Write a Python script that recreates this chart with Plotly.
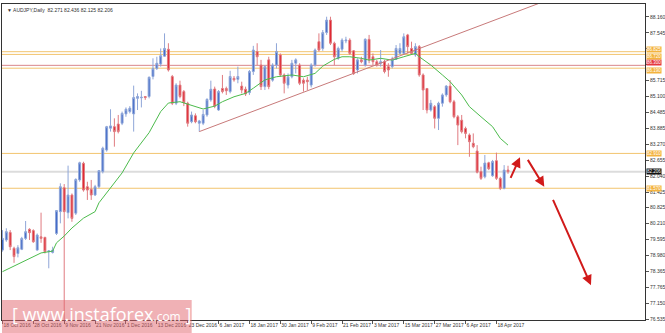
import plotly.graph_objects as go

# ---------------- data ----------------
tick_labels = ["18 Oct 2016", "28 Oct 2016", "9 Nov 2016", "21 Nov 2016", "1 Dec 2016",
               "13 Dec 2016", "23 Dec 2016", "6 Jan 2017", "18 Jan 2017", "30 Jan 2017",
               "9 Feb 2017", "21 Feb 2017", "3 Mar 2017", "15 Mar 2017", "27 Mar 2017",
               "6 Apr 2017", "18 Apr 2017"]
bars_per_tick = 8

opens = [79.19, 79.58, 79.87, 79.26, 79.06, 79.22, 79.64, 79.99, 79.94, 79.19,
         79.70, 79.68, 79.13, 79.10, 79.83, 80.67, 81.59, 80.63, 81.31, 80.61,
         81.89, 82.53, 81.63, 81.53, 81.31, 81.63, 82.21, 83.04, 83.88, 83.94,
         84.04, 84.07, 84.43, 84.52, 84.43, 85.03, 85.05, 85.10, 85.10, 85.87,
         86.18, 86.35, 86.65, 86.92, 85.87, 84.84, 85.54, 85.29, 84.84, 84.13,
         84.36, 84.07, 84.07, 84.39, 84.97, 85.39, 84.58, 85.41, 85.41, 85.29,
         85.80, 85.76, 85.50, 85.38, 85.25, 86.06, 86.83, 86.31, 85.48, 86.51,
         85.73, 86.31, 86.70, 85.93, 85.54, 85.86, 86.38, 86.31, 85.73, 85.73,
         85.54, 86.31, 87.21, 86.95, 87.56, 88.04, 87.15, 86.57, 86.92, 87.24,
         87.27, 86.86, 86.12, 86.51, 86.31, 87.30, 86.63, 86.44, 86.38, 86.44,
         86.25, 86.25, 86.53, 86.76, 86.76, 87.47, 86.95, 86.70, 87.02, 85.93,
         85.41, 84.58, 84.71, 84.26, 84.84, 85.16, 85.50, 84.90, 84.32, 84.19,
         83.87, 83.62, 83.30, 83.00, 82.21, 82.01, 82.55, 82.05, 82.63, 81.95,
         81.57, 82.271]
highs = [79.96, 80.03, 79.96, 79.32, 79.38, 79.70, 80.31, 80.03, 79.99, 79.83,
         80.63, 79.70, 79.19, 79.32, 80.73, 81.76, 81.73, 82.44, 81.37, 81.95,
         82.59, 82.59, 81.82, 81.89, 81.70, 82.27, 83.17, 83.97, 84.61, 84.26,
         84.39, 84.52, 84.68, 84.73, 85.52, 85.22, 85.32, 85.12, 85.87, 86.57,
         86.63, 86.95, 87.53, 87.15, 85.93, 85.61, 85.71, 85.35, 84.90, 84.52,
         84.45, 84.20, 84.58, 85.03, 85.71, 85.48, 85.35, 85.93, 85.48, 86.09,
         85.89, 86.25, 85.67, 85.48, 86.12, 87.05, 87.15, 86.51, 86.31, 86.63,
         86.38, 87.15, 86.76, 85.99, 85.99, 86.51, 86.57, 86.38, 85.80, 85.86,
         86.38, 86.95, 87.53, 87.66, 88.17, 88.17, 87.21, 87.02, 87.34, 87.40,
         87.34, 86.89, 86.57, 86.63, 87.34, 87.47, 86.76, 86.51, 86.89, 86.51,
         86.38, 86.63, 87.08, 87.15, 87.53, 87.51, 87.21, 87.15, 87.08, 85.99,
         85.41, 84.97, 84.77, 84.90, 85.22, 85.54, 85.73, 84.97, 84.39, 84.39,
         83.94, 83.68, 83.68, 83.23, 82.40, 82.85, 82.59, 82.66, 82.94, 82.01,
         82.46, 82.436]
lows = [79.13, 79.51, 79.19, 78.70, 78.91, 79.19, 79.58, 79.58, 79.47, 79.17,
        79.47, 79.06, 78.49, 79.06, 79.77, 80.22, 76.20, 80.41, 80.28, 80.54,
        81.82, 81.44, 81.12, 81.12, 81.27, 81.57, 82.14, 82.98, 83.75, 83.17,
        83.68, 84.00, 84.32, 84.45, 83.75, 84.58, 84.68, 84.97, 85.03, 85.76,
        86.12, 86.25, 86.63, 86.06, 84.77, 84.77, 85.03, 84.73, 83.94, 84.07,
        84.07, 83.75, 84.00, 84.32, 84.90, 84.65, 84.55, 85.22, 85.16, 85.22,
        85.67, 85.61, 85.22, 85.12, 85.16, 85.93, 86.31, 85.35, 85.35, 85.38,
        85.67, 86.18, 85.86, 85.22, 85.41, 85.80, 85.99, 85.54, 85.29, 85.35,
        85.45, 86.25, 86.83, 86.86, 87.47, 87.08, 86.31, 86.51, 86.83, 87.15,
        86.70, 85.93, 85.99, 86.38, 86.25, 86.38, 86.31, 86.25, 86.25, 85.99,
        85.86, 86.18, 86.51, 86.70, 86.70, 86.76, 86.70, 86.63, 85.86, 84.58,
        84.45, 84.52, 83.87, 83.81, 84.71, 85.09, 84.84, 84.26, 83.23, 83.68,
        83.49, 82.78, 83.11, 82.14, 81.89, 81.95, 82.27, 82.01, 81.89, 81.50,
        81.53, 82.125]
closes = [79.64, 79.90, 79.32, 78.94, 79.28, 79.64, 79.90, 79.86, 79.51, 79.77,
          79.64, 79.13, 79.16, 79.19, 80.71, 81.63, 80.67, 81.31, 80.41, 81.91,
          82.55, 81.50, 81.50, 81.31, 81.63, 82.25, 83.11, 83.94, 83.97, 83.75,
          83.75, 84.45, 84.61, 84.65, 85.06, 85.10, 85.07, 85.06, 85.84, 86.18,
          86.38, 86.67, 86.95, 86.12, 84.84, 85.54, 85.10, 84.86, 84.07, 84.39,
          84.13, 84.16, 84.41, 84.99, 85.38, 84.73, 85.29, 85.29, 85.32, 85.87,
          85.74, 85.87, 85.35, 85.20, 86.06, 86.89, 86.63, 85.48, 86.25, 85.48,
          86.31, 86.83, 85.93, 85.61, 85.86, 86.38, 86.51, 85.61, 85.61, 85.67,
          86.31, 86.89, 86.89, 87.56, 88.04, 87.15, 86.63, 86.95, 87.27, 87.27,
          86.76, 85.99, 86.51, 86.44, 87.30, 86.51, 86.44, 86.31, 86.44, 86.06,
          86.12, 86.53, 86.95, 86.95, 87.40, 87.02, 86.76, 87.02, 85.93, 85.35,
          84.58, 84.84, 84.26, 84.84, 85.16, 85.50, 84.90, 84.32, 84.00, 83.75,
          83.68, 83.36, 83.17, 82.19, 81.95, 82.54, 82.32, 82.60, 81.95, 81.57,
          82.27, 82.206]

# moving average line (bar index, price)
ma_idx = [0, 3, 7, 10, 13, 14, 16, 18, 21, 24, 25, 28, 31, 34, 38, 41, 43, 46, 50, 52,
          55, 57, 60, 63, 65, 68, 71, 75, 78, 81, 83, 86, 88, 90, 93, 95, 98, 101, 104,
          107, 108, 111, 114, 116, 119, 121, 124, 127, 129, 131]
ma_val = [78.36, 78.58, 78.88, 79.08, 79.15, 79.47, 79.73, 80.04, 80.42, 80.67, 81.01,
          81.58, 82.16, 82.93, 83.71, 84.52, 84.85, 84.90, 84.73, 84.62, 84.73, 84.90,
          85.09, 85.22, 85.42, 85.74, 85.86, 85.93, 85.86, 85.99, 86.27, 86.53, 86.63,
          86.63, 86.57, 86.50, 86.57, 86.50, 86.63, 86.76, 86.63, 86.31, 85.93, 85.67,
          85.16, 84.71, 84.32, 83.94, 83.49, 83.23]

# trend line anchors (bar index, price)
trend_idx = [51, 145]
trend_price = [83.75, 89.02]

# horizontal levels
orange_levels = [86.825, 86.720, 86.190, 82.910, 81.570]
red_levels = [86.300]
last_price = 82.206

price_ticks = [88.160, 87.545, 86.930, 86.315, 85.715, 85.100, 84.485, 83.885, 83.270,
               82.655, 82.040, 81.425, 80.825, 80.210, 79.595, 78.980, 78.365, 77.765,
               77.150, 76.535]
# tick labels hidden behind the level labels in the terminal
hidden_ticks = [86.930, 86.315]

# forecast arrows: (tail bar, tail price, head bar, head price)
arrows = [(131.5, 81.91, 134.1, 82.76),
          (135.9, 82.72, 140.4, 81.63),
          (142.5, 81.18, 152.5, 77.84)]

title_text = "AUDJPY,Daily  82.271 82.436 82.125 82.206"

# ---------------- figure ----------------
FONT = "Liberation Sans"
BLUE = "#3f68c8"
RED = "#e0212b"
ORANGE = "#f2c46e"
xs = list(range(len(opens)))

fig = go.Figure()

for lv in orange_levels:
    fig.add_hline(y=lv, line=dict(color=ORANGE, width=1), layer="below")
for lv in red_levels:
    fig.add_hline(y=lv, line=dict(color="#d9868b", width=1), layer="below")
fig.add_hline(y=last_price, line=dict(color="#dcdcdc", width=2), layer="below")

fig.add_trace(go.Scatter(x=ma_idx, y=ma_val, mode="lines",
                         line=dict(color="#4cbb4c", width=1), hoverinfo="skip"))
fig.add_trace(go.Scatter(x=trend_idx, y=trend_price, mode="lines",
                         line=dict(color="#c87a7a", width=1), hoverinfo="skip"))

fig.add_trace(go.Candlestick(
    x=xs, open=opens, high=highs, low=lows, close=closes,
    increasing=dict(line=dict(color="#8fa6d8", width=1), fillcolor=BLUE),
    decreasing=dict(line=dict(color="#e07b80", width=1), fillcolor=RED),
    whiskerwidth=0, hoverinfo="skip"))

for (tx, ty, hx, hy) in arrows:
    fig.add_annotation(x=hx, y=hy, ax=tx, ay=ty, xref="x", yref="y", axref="x", ayref="y",
                       showarrow=True, arrowhead=2, arrowsize=1, arrowwidth=2,
                       arrowcolor="#d11a1a", text="")

# price labels on the axis (stacked like the terminal does when levels are close)
def axis_label(val, bg, fg, shift=0):
    fig.add_annotation(x=1, xref="paper", y=val, yref="y", xanchor="left", yanchor="middle",
                       text=f"{val:.3f}", showarrow=False, bgcolor=bg, borderpad=0,
                       font=dict(family=FONT, size=4.5, color=fg), xshift=1, yshift=shift)

label_shift = {86.825: 2.5, 86.720: -2.5, 86.300: 2.5, 86.190: -2.5}
for lv in red_levels:
    axis_label(lv, "#e5383f", "#ffffff", label_shift.get(lv, 0))
for lv in orange_levels:
    axis_label(lv, "#f3b33f", "#ffffff", label_shift.get(lv, 0))
axis_label(last_price, "#111111", "#ffffff")

# title
fig.add_annotation(x=0, y=1, xref="paper", yref="paper", xanchor="left", yanchor="top",
                   text="\u25bc " + title_text, showarrow=False, xshift=3, yshift=-1,
                   font=dict(family=FONT, size=5, color="#333333"))

# watermark
fig.add_shape(type="rect", xref="paper", yref="paper", x0=0, x1=0.295, y0=-0.05, y1=0.063,
              fillcolor="rgba(225,100,108,0.5)", line=dict(width=0), layer="above")
fig.add_annotation(x=0.012, y=-0.025, xref="paper", yref="paper", xanchor="left", yanchor="bottom",
                   text="[ www.instaforex<span style='font-size:12px'>.com</span> ]",
                   showarrow=False, font=dict(family="Open Sans", size=18, color="#ffffff"))

fig.update_layout(
    width=665, height=333,
    margin=dict(l=2, r=20, t=4, b=13, autoexpand=False),
    paper_bgcolor="#ffffff", plot_bgcolor="#ffffff",
    showlegend=False,
    xaxis=dict(range=[-0.12, 166.5], rangeslider=dict(visible=False), showgrid=False,
               zeroline=False, showline=True, linecolor="#333333", linewidth=1, mirror=True,
               tickmode="array",
               tickvals=[i * bars_per_tick for i in range(len(tick_labels))],
               ticktext=tick_labels, ticks="outside", ticklen=3, tickcolor="#555555",
               ticklabelposition="outside right", tickangle=0, automargin=False,
               tickfont=dict(family=FONT, size=5, color="#333333"), fixedrange=True),
    yaxis=dict(range=[76.50, 88.66], side="right", showgrid=False, zeroline=False,
               showline=True, linecolor="#333333", linewidth=1, mirror=True,
               tickmode="array", tickvals=price_ticks, automargin=False,
               ticktext=["" if v in hidden_ticks else f"{v:.3f}" for v in price_ticks],
               ticks="outside", ticklen=3,
               tickcolor="#555555", tickfont=dict(family=FONT, size=5, color="#333333"),
               fixedrange=True),
)

fig.write_html("out.html")
